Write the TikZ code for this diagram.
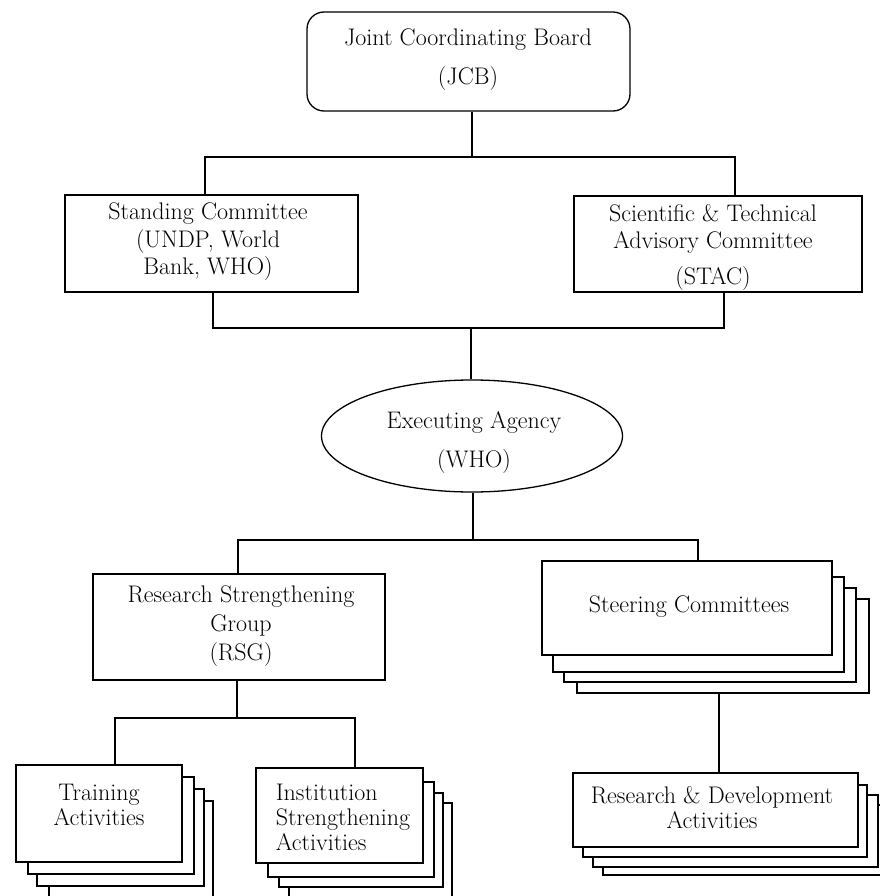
\documentclass[tikz,border=0pt]{standalone}
\usetikzlibrary{shapes.geometric}
\begin{document}
\begin{tikzpicture}[x=1pt,y=-1pt,
  box/.style={draw, fill=white, line width=1.3pt, inner sep=0pt},
  rbox/.style={box, rounded corners=17pt},
  oval/.style={draw, fill=white, line width=1.3pt, inner sep=0pt, ellipse},
  txt/.style={inner sep=0pt, align=center, font=\fontsize{24}{25}\selectfont},
  conn/.style={line width=1.3pt}]
\useasboundingbox (0,0) rectangle (879,896);

% Top
\node[rbox, minimum width=323pt, minimum height=99pt] (jcb) at (468.5,61.5) {};
\node[txt, font=\fontsize{24}{39}\selectfont] (jcbt) at (468,60) {Joint Coordinating Board\\(JCB)};

\node[box, minimum width=293pt, minimum height=97pt] (sc) at (211.5,243.5) {};
\node[txt, font=\fontsize{24}{27.5}\selectfont] (sct) at (208,242) {Standing Committee\\(UNDP, World\\Bank, WHO)};

\node[box, minimum width=288pt, minimum height=96pt] (stac) at (718,244) {};
\node[txt, font=\fontsize{24}{27}\selectfont] (stact) at (713,247) {Scientific \& Technical\\Advisory Committee\\[9pt](STAC)};

\node[oval, minimum width=301pt, minimum height=112pt] (exe) at (472,436) {};
\node[txt, font=\fontsize{24}{39}\selectfont] (exet) at (474,443) {Executing Agency\\(WHO)};

\node[box, minimum width=292pt, minimum height=106pt] (rsg) at (239,627) {};
\node[txt, font=\fontsize{24}{29}\selectfont] (rsgt) at (241,626) {Research Strengthening\\Group\\(RSG)};

% Steering stack
\node[box, minimum width=292pt, minimum height=94pt] (st4) at (723,646) {};
\node[box, minimum width=292pt, minimum height=94pt] (st3) at (710,635) {};
\node[box, minimum width=291pt, minimum height=95pt] (st2) at (698.5,624.5) {};
\node[box, minimum width=290pt, minimum height=94pt] (st1) at (687,608) {};
\node[txt] (stt) at (689,607) {Steering Committees};

% R&D stack
\node[box, minimum width=287pt, minimum height=70pt] (rd4) at (746.5,840) {};
\node[box, minimum width=285pt, minimum height=72pt] (rd3) at (735.5,831) {};
\node[box, minimum width=284pt, minimum height=72pt] (rd2) at (725,821) {};
\node[box, minimum width=285pt, minimum height=74pt] (rd1) at (715.5,810) {};
\node[txt] (rdt) at (712,808) {Research \& Development\\Activities};

% Training stack
\node[box, minimum width=164pt, minimum height=97pt] (tr4) at (131,849.5) {};
\node[box, minimum width=167pt, minimum height=97pt] (tr3) at (120.5,837.5) {};
\node[box, minimum width=166pt, minimum height=97pt] (tr2) at (111,825.5) {};
\node[box, minimum width=166pt, minimum height=97pt] (tr1) at (99,813.5) {};
\node[txt] (trt) at (99,805) {Training\\Activities};

% Institution stack
\node[box, minimum width=163pt, minimum height=95pt] (in4) at (370.5,850.5) {};
\node[box, minimum width=164pt, minimum height=94pt] (in3) at (361,840) {};
\node[box, minimum width=166pt, minimum height=95pt] (in2) at (351,829.5) {};
\node[box, minimum width=167pt, minimum height=95pt] (in1) at (339.5,815.5) {};
\node[txt, align=left] (int) at (343,817) {Institution\\Strengthening\\Activities};

% Junctions
\coordinate (jm) at (472,157);
\coordinate (ja) at (205,157);
\coordinate (jb) at (735,157);
\coordinate (km) at (471,328);
\coordinate (ka) at (213,328);
\coordinate (kb) at (724,328);
\coordinate (lm) at (473,540);
\coordinate (la) at (238,540);
\coordinate (lb) at (698,540);
\coordinate (mm) at (237,718);
\coordinate (ma) at (115,718);
\coordinate (mb) at (355,718);
\coordinate (sx) at (719,0);

% Connectors
\draw[conn] (jcb.south -| jm) -- (jm);
\draw[conn] (sc.north -| ja) -- (ja) -- (jb) -- (stac.north -| jb);
\draw[conn] (sc.south -| ka) -- (ka) -- (kb) -- (stac.south -| kb);
\draw[conn] (km) -- (exe.north -| km);
\draw[conn] (exe.south -| lm) -- (lm);
\draw[conn] (rsg.north -| la) -- (la) -- (lb) -- (st1.north -| lb);
\draw[conn] (rsg.south -| mm) -- (mm);
\draw[conn] (tr1.north -| ma) -- (ma) -- (mb) -- (in1.north -| mb);
\draw[conn] (st4.south -| sx) -- (rd1.north -| sx);
\end{tikzpicture}
\end{document}
